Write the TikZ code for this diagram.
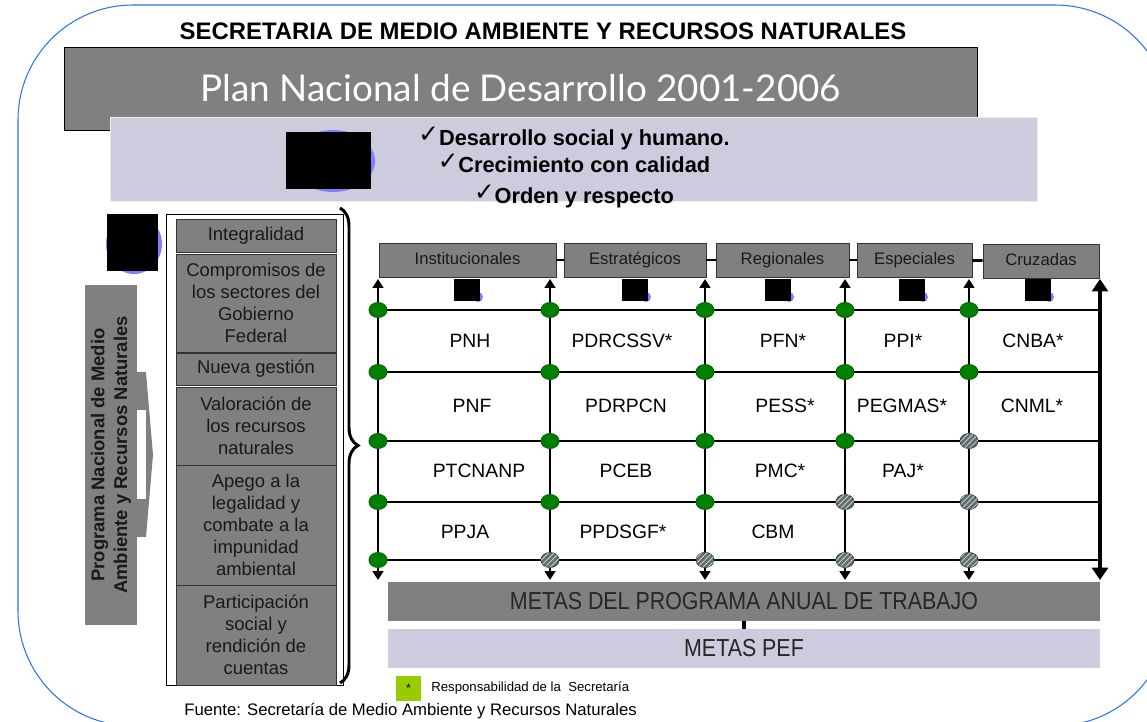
\documentclass[tikz,border=0pt]{standalone}
\usepackage{fontspec}
\setmainfont{Liberation Sans}
\newfontfamily\planfont{Lato}
\newfontfamily\tickfont{DejaVu Sans}
\usetikzlibrary{arrows.meta,decorations.pathreplacing,patterns,shapes.geometric}

\definecolor{boxgray}{RGB}{128,128,128}
\definecolor{lavender}{RGB}{204,204,222}
\definecolor{dotgreen}{RGB}{0,128,0}
\definecolor{hatchgray}{RGB}{96,112,112}
\definecolor{edgeblue}{RGB}{45,115,240}
\definecolor{legendgreen}{RGB}{153,204,0}
\definecolor{peekblue}{RGB}{128,128,255}

\newcommand{\tick}{\raisebox{2pt}{\tickfont\bfseries\fontsize{14}{14}\selectfont ✓}}

\tikzset{
  panel/.style = {fill = boxgray, draw = black!80, line width = 0.5pt, inner sep = 0pt},
  listcell/.style = {panel, minimum width = 3.2cm, align = center, text = black!90,
    font = \fontsize{10.5}{12.5}\selectfont},
  head/.style = {panel, minimum height = 0.68cm, text = black!90,
    text height = 7pt, text depth = 2pt, font = \fontsize{9.5}{11}\selectfont},
  cell/.style = {font = \fontsize{11}{13}\selectfont},
  gridline/.style = {line width = 1.6pt},
  colarrow/.style = {line width = 1.6pt,
    {Triangle[width = 6pt, length = 5pt]}-{Triangle[width = 6pt, length = 5pt]}},
  mainarrow/.style = {line width = 2.2pt,
    {Triangle[width = 9pt, length = 7pt]}-{Triangle[width = 9pt, length = 7pt]}},
  dotbase/.style = {ellipse, minimum width = 0.36cm, minimum height = 0.3cm,
    inner sep = 0pt, line width = 0.5pt},
  gdot/.style = {dotbase, fill = dotgreen, draw = black!60!green},
  hdot/.style = {dotbase, fill = hatchgray, draw = black!75,
    postaction = {pattern = north east lines, pattern color = white!70!gray}},
  peek/.style = {fill = peekblue},
  goalbar/.style = {minimum width = 14.24cm, minimum height = 0.78cm, inner sep = 0pt,
    text = black!85, font = \fontsize{14}{16}\selectfont},
}

\begin{document}
\begin{tikzpicture}[x = 0.02cm, y = -0.02cm]
    \useasboundingbox (0, 0) rectangle (1147, 722);

% Outer frame
    \draw [edgeblue, line width = 0.6pt, rounded corners = 2.3cm] (18, 5) rectangle (1170, 726);

    \node (title) at (543, 31) {\bfseries\fontsize{13.6}{15}\selectfont SECRETARIA DE MEDIO AMBIENTE Y RECURSOS NATURALES};

% Plan and its three lines
    \node [panel, draw = black, minimum width = 18.28cm, minimum height = 1.66cm,
        text = white, font = \planfont\fontsize{21}{24}\selectfont] (plan) at (521, 88.5)
        {Plan Nacional de Desarrollo 2001-2006};
    \fill [lavender] (110, 117) rectangle (1037, 201);
    \draw [white!85!gray, line width = 0.5pt] (110, 117) rectangle (1037, 201);
    \node [anchor = base, font = \bfseries\fontsize{12.4}{14}\selectfont] (axis1) at (574, 146) {\tick Desarrollo social y humano.};
    \node [anchor = base, font = \bfseries\fontsize{12.4}{14}\selectfont] (axis2) at (574, 173) {\tick Crecimiento con calidad};
    \node [anchor = base, font = \bfseries\fontsize{12.4}{14}\selectfont] (axis3) at (574, 204) {\tick Orden y respecto};

% Hidden figures
    \fill [peek] (333, 161) ellipse [x radius = 0.84cm, y radius = 0.62cm];
    \fill (286, 132) rectangle (371, 189);
    \fill [peek] (134, 244) ellipse [x radius = 0.56cm, y radius = 0.6cm];
    \fill (107, 214) rectangle (158, 271);
    \foreach \x in {454, 622, 765, 899, 1025} {
        \fill [peek] (\x + 24, 297) ellipse [x radius = 0.1cm, y radius = 0.1cm];
        \fill (\x, 279) rectangle (\x + 26, 301);
    }

% Programa Nacional arrow
    \fill [boxgray] (137, 372) -- (146, 372) -- (153, 455) -- (146, 537) -- (137, 537) -- cycle;
    \fill [white] (137, 410) rectangle (146, 499);
    \node [fill = boxgray, rotate = 90, minimum width = 6.8cm, minimum height = 1.04cm,
        inner sep = 0pt, align = center, text = black!90,
        font = \bfseries\fontsize{10.5}{13}\selectfont] (pnmarn) at (111, 455)
        {Programa Nacional de Medio\\Ambiente y Recursos Naturales};

% Principles
    \node [draw, fill = white, line width = 0.5pt, minimum width = 3.54cm,
        minimum height = 9.42cm] (listframe) at (254.5, 449.5) {};
    \node [listcell, minimum height = 0.66cm] (integ) at (256, 235.5) {Integralidad};
    \node [listcell, minimum height = 1.96cm] (compr) at (256, 303)
        {Compromisos de\\los sectores del\\Gobierno\\Federal};
    \node [listcell, minimum height = 0.64cm] (nueva) at (256, 369) {Nueva gestión};
    \node [listcell, minimum height = 1.56cm] (valor) at (256, 426)
        {Valoración de\\los recursos\\naturales};
    \node [listcell, minimum height = 2.4cm] (apego) at (256, 525)
        {Apego a la\\legalidad y\\combate a la\\impunidad\\ambiental};
    \node [listcell, minimum height = 2.0cm] (parti) at (256, 635)
        {Participación\\social y\\rendición de\\cuentas};

    \coordinate (brace-top) at (340, 208);
    \coordinate (brace-bot) at (340, 683);
    \draw [decorate, decoration = {brace, amplitude = 0.36cm}, line width = 1.7pt]
        (brace-top) -- (brace-bot);

% Program types
    \node [head, minimum width = 3.54cm] (inst) at (467.5, 260) {Institucionales};
    \node [head, minimum width = 2.84cm] (estr) at (635, 260) {Estratégicos};
    \node [head, minimum width = 2.66cm] (regi) at (782.5, 260) {Regionales};
    \node [head, minimum width = 2.3cm] (espe) at (914.5, 260) {Especiales};
    \node [head, minimum width = 2.32cm] (cruz) at (1041, 261) {Cruzadas};
    \foreach \a/\b in {inst/estr, estr/regi, regi/espe, espe/cruz}
        \draw [gridline] (\a) -- (\b);

% Grid
    \foreach \x [count = \c] in {378, 550, 705, 845, 969, 1100} {
        \coordinate (top-\c) at (\x, 279);
        \coordinate (bot-\c) at (\x, 580);
        \foreach \y [count = \r] in {310, 372, 441, 502, 560}
            \coordinate (g-\c-\r) at (\x, \y);
    }
    \foreach \c in {1, ..., 5}
        \draw [colarrow] (top-\c) -- (bot-\c);
    \draw [mainarrow] (top-6) -- (bot-6);
    \foreach \r in {1, ..., 5}
        \draw [gridline] (g-1-\r) -- (g-6-\r);

    \foreach \c/\r in {1/1, 2/1, 3/1, 4/1, 5/1, 1/2, 2/2, 3/2, 4/2, 5/2,
        1/3, 2/3, 3/3, 4/3, 1/4, 2/4, 3/4, 1/5}
        \node [gdot] (d-\c-\r) at (g-\c-\r) {};
    \foreach \c/\r in {5/3, 4/4, 5/4, 2/5, 3/5, 4/5, 5/5}
        \node [hdot] (d-\c-\r) at (g-\c-\r) {};

% Programs
    \node [cell] (pnh) at (470, 341) {PNH};
    \node [cell] (pdrcssv) at (622, 341) {PDRCSSV*};
    \node [cell] (pfn) at (783, 341) {PFN*};
    \node [cell] (ppi) at (903, 341) {PPI*};
    \node [cell] (cnba) at (1033, 341) {CNBA*};
    \node [cell] (pnf) at (472, 406) {PNF};
    \node [cell] (pdrpcn) at (626, 406) {PDRPCN};
    \node [cell] (pess) at (785, 406) {PESS*};
    \node [cell] (pegmas) at (902, 406) {PEGMAS*};
    \node [cell] (cnml) at (1032, 406) {CNML*};
    \node [cell] (ptcnanp) at (479, 471) {PTCNANP};
    \node [cell] (pceb) at (626, 471) {PCEB};
    \node [cell] (pmc) at (780, 471) {PMC*};
    \node [cell] (paj) at (903, 471) {PAJ*};
    \node [cell] (ppja) at (465, 532) {PPJA};
    \node [cell] (ppdsgf) at (623, 532) {PPDSGF*};
    \node [cell] (cbm) at (773, 532) {CBM};

% Goals
    \node [goalbar, fill = boxgray] (metas) at (744, 601.5)
        {\scalebox{0.87}[1]{METAS DEL PROGRAMA ANUAL DE TRABAJO}};
    \node [goalbar, fill = lavender] (pef) at (744, 648.5)
        {\scalebox{0.87}[1]{METAS PEF}};
    \draw [line width = 2.2pt] (metas) -- (pef);

% Legend and source
    \node [fill = legendgreen, minimum size = 0.5cm, inner sep = 0pt,
        font = \fontsize{7}{8}\selectfont] (resp) at (408.5, 688.5) {*};
    \node [anchor = west, inner sep = 0pt, font = \fontsize{7.5}{9}\selectfont] (resptext) at (431, 688)
        {Responsabilidad de la\ \ Secretaría};
    \node [anchor = west, inner sep = 0pt, font = \fontsize{9.5}{11}\selectfont] (source) at (184, 711)
        {Fuente: Secretaría de Medio Ambiente y Recursos Naturales};
\end{tikzpicture}
\end{document}
